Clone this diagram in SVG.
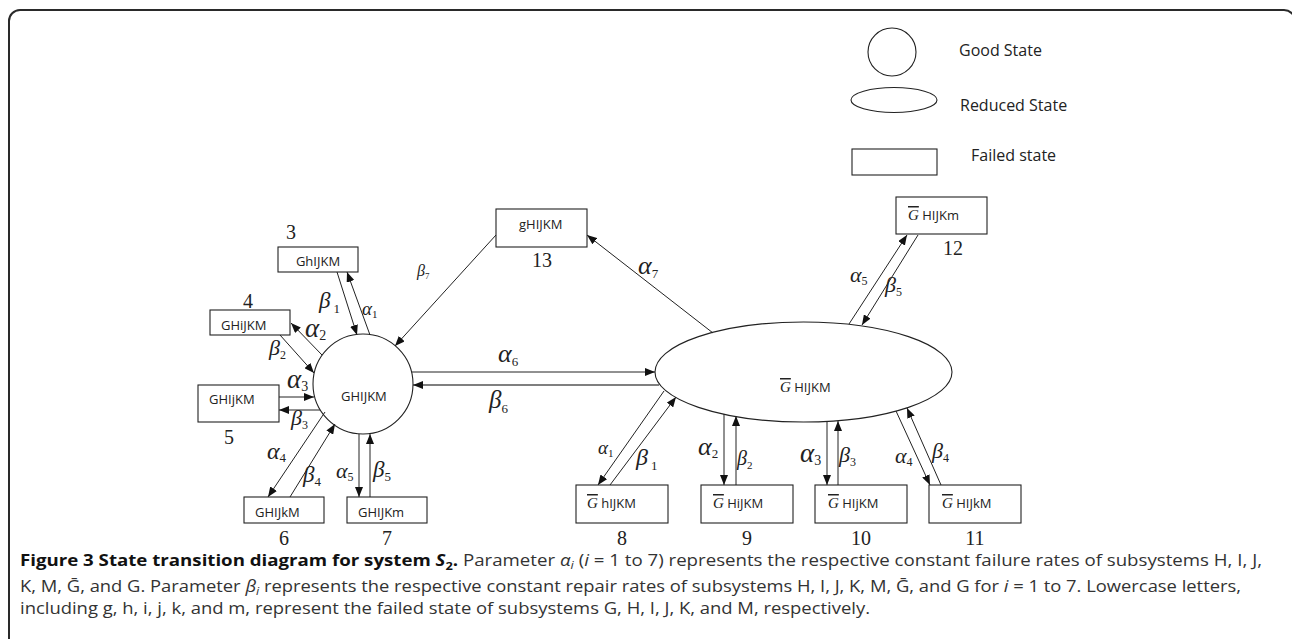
<svg xmlns="http://www.w3.org/2000/svg" width="1292" height="639" viewBox="0 0 1292 639">
<style>
.shape{fill:none;stroke:#222;stroke-width:1.1}
.ln{fill:none;stroke:#222;stroke-width:1}
.n{font-family:"Open Sans","Noto Sans",sans-serif;font-size:13px;fill:#222}
.lg{font-family:"Open Sans","Noto Sans",sans-serif;font-size:16px;fill:#222}
.num{font-family:"Liberation Serif",serif;font-size:20px;fill:#222}
.gk{font-family:"Liberation Serif",serif;font-style:italic;fill:#222}
.sb{font-family:"Liberation Serif",serif;font-style:normal}
.gb{font-family:"Liberation Serif",serif;font-style:italic;font-size:15px;text-decoration:overline}
.cap{font-family:"Open Sans","Noto Sans",sans-serif;font-size:16px;fill:#333}
.b{font-weight:bold;fill:#111}
.i{font-style:italic}
</style>
<defs>
<marker id="ah" markerUnits="userSpaceOnUse" markerWidth="10" markerHeight="8" refX="10" refY="4" orient="auto">
<path d="M0,0 L10,4 L0,8 z" fill="#111"/>
</marker>
</defs>
<rect x="9" y="10" width="1286" height="700" rx="11" fill="none" stroke="#2a2a2a" stroke-width="2"/>

<g id="legend">
<circle class="shape" cx="892" cy="52" r="24"/>
<ellipse class="shape" cx="894" cy="100" rx="43" ry="12.5"/>
<rect class="shape" x="852" y="149" width="85" height="26"/>
<text class="lg" x="959" y="56">Good State</text>
<text class="lg" x="960" y="111">Reduced State</text>
<text class="lg" x="971" y="161">Failed state</text>
</g>

<g id="connectors">
<line class="ln" x1="337" y1="272" x2="357" y2="335" marker-end="url(#ah)"/>
<line class="ln" x1="370" y1="335" x2="347" y2="272" marker-end="url(#ah)"/>
<line class="ln" x1="322" y1="355" x2="291" y2="323" marker-end="url(#ah)"/>
<line class="ln" x1="280" y1="335" x2="314" y2="373" marker-end="url(#ah)"/>
<line class="ln" x1="279" y1="397" x2="314" y2="397" marker-end="url(#ah)"/>
<line class="ln" x1="320" y1="410" x2="279" y2="410" marker-end="url(#ah)"/>
<line class="ln" x1="325" y1="412" x2="268" y2="497" marker-end="url(#ah)"/>
<line class="ln" x1="290" y1="497" x2="335" y2="424" marker-end="url(#ah)"/>
<line class="ln" x1="359" y1="434" x2="359" y2="497" marker-end="url(#ah)"/>
<line class="ln" x1="370" y1="497" x2="370" y2="434" marker-end="url(#ah)"/>
<line class="ln" x1="496" y1="235" x2="395" y2="346" marker-end="url(#ah)"/>
<line class="ln" x1="713" y1="333" x2="587" y2="235" marker-end="url(#ah)"/>
<line class="ln" x1="412" y1="372" x2="655" y2="372" marker-end="url(#ah)"/>
<line x1="659" y1="385" x2="413" y2="385" stroke="#555" stroke-width="1.5" marker-end="url(#ah)"/>
<line class="ln" x1="849" y1="324" x2="907" y2="235" marker-end="url(#ah)"/>
<line class="ln" x1="918" y1="235" x2="862" y2="325" marker-end="url(#ah)"/>
<line class="ln" x1="664" y1="391" x2="598" y2="485" marker-end="url(#ah)"/>
<line class="ln" x1="610" y1="485" x2="676" y2="397" marker-end="url(#ah)"/>
<line class="ln" x1="724" y1="414" x2="724" y2="485" marker-end="url(#ah)"/>
<line class="ln" x1="736" y1="485" x2="736" y2="416" marker-end="url(#ah)"/>
<line class="ln" x1="827" y1="421" x2="827" y2="485" marker-end="url(#ah)"/>
<line class="ln" x1="838" y1="485" x2="838" y2="421" marker-end="url(#ah)"/>
<line class="ln" x1="896" y1="411" x2="930" y2="485" marker-end="url(#ah)"/>
<line class="ln" x1="941" y1="485" x2="907" y2="408" marker-end="url(#ah)"/>
</g>

<g id="rate-labels">
<text class="gk" x="319" y="308" font-size="23">β<tspan class="sb" font-size="13" dx="3" dy="5">1</tspan></text>
<text class="gk" x="362" y="315" font-size="19">α<tspan class="sb" font-size="11" dy="3">1</tspan></text>
<text class="gk" x="305" y="337" font-size="27">α<tspan class="sb" font-size="14" dy="3">2</tspan></text>
<text class="gk" x="269" y="355" font-size="22">β<tspan class="sb" font-size="12" dy="4">2</tspan></text>
<text class="gk" x="287" y="388" font-size="27">α<tspan class="sb" font-size="14" dy="3">3</tspan></text>
<text class="gk" x="291" y="425" font-size="22">β<tspan class="sb" font-size="12" dy="4">3</tspan></text>
<text class="gk" x="267" y="459" font-size="24">α<tspan class="sb" font-size="13" dy="3">4</tspan></text>
<text class="gk" x="303" y="482" font-size="23">β<tspan class="sb" font-size="13" dy="4">4</tspan></text>
<text class="gk" x="336" y="478" font-size="22">α<tspan class="sb" font-size="12" dy="3">5</tspan></text>
<text class="gk" x="373" y="477" font-size="23">β<tspan class="sb" font-size="13" dy="4">5</tspan></text>
<text class="gk" x="417" y="276" font-size="16">β<tspan class="sb" font-size="9" dy="3">7</tspan></text>
<text class="gk" x="638" y="274" font-size="26">α<tspan class="sb" font-size="13" dy="4">7</tspan></text>
<text class="gk" x="498" y="362" font-size="26">α<tspan class="sb" font-size="13" dy="4">6</tspan></text>
<text class="gk" x="489" y="408" font-size="25">β<tspan class="sb" font-size="13" dy="5">6</tspan></text>
<text class="gk" x="850" y="282" font-size="22">α<tspan class="sb" font-size="12" dy="3">5</tspan></text>
<text class="gk" x="885" y="292" font-size="22">β<tspan class="sb" font-size="12" dy="4">5</tspan></text>
<text class="gk" x="598" y="454" font-size="19">α<tspan class="sb" font-size="11" dy="3">1</tspan></text>
<text class="gk" x="636" y="465" font-size="24">β<tspan class="sb" font-size="13" dx="3" dy="5">1</tspan></text>
<text class="gk" x="698" y="455" font-size="26">α<tspan class="sb" font-size="13" dy="3">2</tspan></text>
<text class="gk" x="737" y="465" font-size="20">β<tspan class="sb" font-size="11" dy="4">2</tspan></text>
<text class="gk" x="800" y="462" font-size="27">α<tspan class="sb" font-size="14" dy="3">3</tspan></text>
<text class="gk" x="839" y="462" font-size="22">β<tspan class="sb" font-size="12" dy="4">3</tspan></text>
<text class="gk" x="895" y="463" font-size="22">α<tspan class="sb" font-size="12" dy="3">4</tspan></text>
<text class="gk" x="932" y="458" font-size="22">β<tspan class="sb" font-size="12" dy="4">4</tspan></text>
</g>

<g id="n1">
<circle class="shape" cx="363" cy="384" r="50"/>
<text class="n" x="341" y="401">GHIJKM</text>
</g>
<g id="n2">
<ellipse class="shape" cx="803.5" cy="372" rx="148.5" ry="50"/>
<text class="n" x="780" y="392"><tspan class="gb">G</tspan> HIJKM</text>
</g>
<g id="n3">
<rect class="shape" x="278" y="247" width="80" height="25"/>
<text class="n" x="318" y="266" text-anchor="middle">GhIJKM</text>
<text class="num" x="286" y="239" font-size="14">3</text>
</g>
<g id="n4">
<rect class="shape" x="210" y="310" width="80" height="25"/>
<text class="n" x="221" y="330">GHiJKM</text>
<text class="num" x="243" y="308">4</text>
</g>
<g id="n5">
<rect class="shape" x="198" y="385" width="81" height="37"/>
<text class="n" x="209" y="404">GHIjKM</text>
<text class="num" x="224" y="444">5</text>
</g>
<g id="n6">
<rect class="shape" x="244" y="497" width="80" height="26"/>
<text class="n" x="255" y="517">GHIJkM</text>
<text class="num" x="284" y="545" text-anchor="middle">6</text>
</g>
<g id="n7">
<rect class="shape" x="347" y="497" width="80" height="26"/>
<text class="n" x="358" y="517">GHIJKm</text>
<text class="num" x="387" y="545" text-anchor="middle">7</text>
</g>
<g id="n8">
<rect class="shape" x="576" y="485" width="92" height="38"/>
<text class="n" x="587" y="508"><tspan class="gb">G</tspan> hIJKM</text>
<text class="num" x="622" y="545" text-anchor="middle">8</text>
</g>
<g id="n9">
<rect class="shape" x="701" y="485" width="92" height="38"/>
<text class="n" x="713" y="508"><tspan class="gb">G</tspan> HiJKM</text>
<text class="num" x="747" y="545" text-anchor="middle">9</text>
</g>
<g id="n10">
<rect class="shape" x="815" y="485" width="92" height="38"/>
<text class="n" x="828" y="508"><tspan class="gb">G</tspan> HIjKM</text>
<text class="num" x="861" y="545" text-anchor="middle">10</text>
</g>
<g id="n11">
<rect class="shape" x="929" y="485" width="92" height="38"/>
<text class="n" x="942" y="508"><tspan class="gb">G</tspan> HIJkM</text>
<text class="num" x="975" y="545" text-anchor="middle">11</text>
</g>
<g id="n12">
<rect class="shape" x="896" y="197" width="91" height="37"/>
<text class="n" x="908" y="220"><tspan class="gb">G</tspan> HIJKm</text>
<text class="num" x="953" y="255" text-anchor="middle">12</text>
</g>
<g id="n13">
<rect class="shape" x="496" y="209" width="91" height="38"/>
<text class="n" x="519" y="229">gHIJKM</text>
<text class="num" x="542" y="267" text-anchor="middle">13</text>
</g>

<g id="caption">
<text class="cap" x="20" y="566" textLength="1242" lengthAdjust="spacingAndGlyphs"><tspan class="b">Figure 3 State transition diagram for system </tspan><tspan class="b i">S</tspan><tspan class="b" font-size="11" dy="4">2</tspan><tspan class="b" dy="-4">.</tspan> Parameter <tspan class="i">α</tspan><tspan class="i" font-size="11" dy="3">i</tspan><tspan dy="-3"> (</tspan><tspan class="i">i</tspan> = 1 to 7) represents the respective constant failure rates of subsystems H, I, J,</text>
<text class="cap" x="20" y="592" textLength="1221" lengthAdjust="spacingAndGlyphs">K, M, Ḡ, and G. Parameter <tspan class="i">β</tspan><tspan class="i" font-size="11" dy="3">i</tspan><tspan dy="-3"> represents the respective constant repair rates of subsystems H, I, J, K, M, Ḡ, and G for </tspan><tspan class="i">i</tspan> = 1 to 7. Lowercase letters,</text>
<text class="cap" x="20" y="614" textLength="850" lengthAdjust="spacingAndGlyphs">including g, h, i, j, k, and m, represent the failed state of subsystems G, H, I, J, K, and M, respectively.</text>
</g>
</svg>
